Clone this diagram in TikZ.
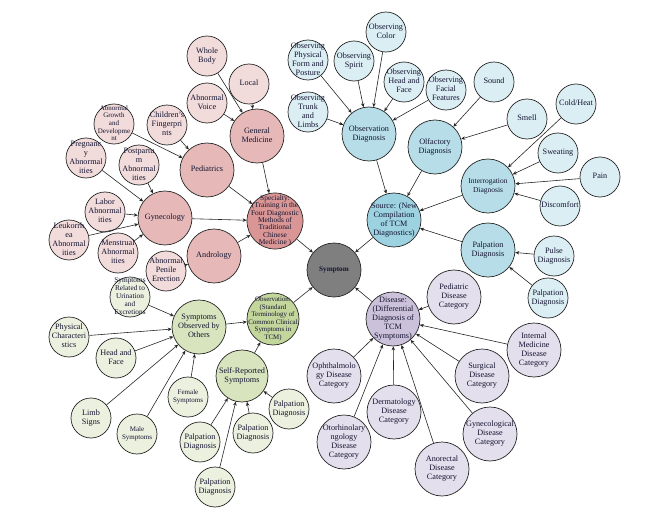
\documentclass[tikz,border=0pt]{standalone}
\usepackage{fontspec}
\setmainfont{Liberation Serif}
\usepackage{tikz}
\usetikzlibrary{arrows.meta}
\definecolor{ink}{HTML}{141432}
\definecolor{pinkA}{HTML}{F2DCDB}
\definecolor{pinkB}{HTML}{E6B9B8}
\definecolor{pinkC}{HTML}{D99694}
\definecolor{blueA}{HTML}{DBEEF4}
\definecolor{blueB}{HTML}{B7DEE8}
\definecolor{blueC}{HTML}{9DD2E0}
\definecolor{greenA}{HTML}{EBF1DE}
\definecolor{greenB}{HTML}{D7E4BD}
\definecolor{greenC}{HTML}{C3D69B}
\definecolor{purpA}{HTML}{E4DFEC}
\definecolor{purpC}{HTML}{CCC1DA}
\definecolor{greyC}{HTML}{7F7F7F}
\newcommand{\ctext}[1]{\smash{\makebox[0pt]{\raisebox{-.25em}{\begin{tabular}{@{}c@{}}#1\end{tabular}}}}}
\tikzset{
    smallcircle/.style={draw=black!85, circle, line width=.7pt, minimum size=40pt, inner sep=0pt, text=ink, font=\fontsize{8.2}{9}\selectfont},
    bigcircle/.style={smallcircle, minimum size=54pt},
    tinytext/.style={font=\fontsize{7}{7.6}\selectfont},
    link/.style={->, line width=.6pt, draw=black!85}
}

\begin{document}
\begin{tikzpicture}[x=1pt, y=-1pt, >={Stealth[length=4pt, width=3.5pt]}]
  \useasboundingbox (0,0) rectangle (646,527);
  % centre
  \node(SY)[bigcircle, fill=greyC, font=\fontsize{7.2}{8}\selectfont\bfseries] at (334,270){\ctext{Symptom}};
  % specialty branch
  \node(SP)[bigcircle, minimum size=56pt, fill=pinkC, font=\fontsize{7.4}{7.4}\selectfont] at (275,221){\ctext{Specialty:\\(Training in the\\Four Diagnostic\\Methods of\\Traditional\\Chinese\\Medicine )}};
  \node(GM)[bigcircle, fill=pinkB] at (257,136){\ctext{General\\Medicine}};
  \node(PD)[bigcircle, fill=pinkB] at (207,170){\ctext{Pediatrics}};
  \node(GY)[bigcircle, fill=pinkB] at (165,218){\ctext{Gynecology}};
  \node(AN)[bigcircle, fill=pinkB] at (214,256){\ctext{Andrology}};
  \node(WB)[smallcircle, fill=pinkA] at (207,56){\ctext{Whole\\Body}};
  \node(LO)[smallcircle, fill=pinkA] at (249,84){\ctext{Local}};
  \node(AV)[smallcircle, fill=pinkA] at (207,103){\ctext{Abnormal\\Voice}};
  \node(CF)[smallcircle, fill=pinkA] at (167,125){\ctext{Children's\\Fingerpri\\nts}};
  \node(AG)[smallcircle, tinytext, fill=pinkA] at (114,124){\ctext{Abnormal\\Growth\\and\\Developme\\nt}};
  \node(PR)[smallcircle, fill=pinkA] at (86,158){\ctext{Pregnanc\\y\\Abnormal\\ities}};
  \node(PP)[smallcircle, fill=pinkA] at (139,165){\ctext{Postpartu\\m\\Abnormal\\ities}};
  \node(LA)[smallcircle, fill=pinkA] at (105,212){\ctext{Labor\\Abnormal\\ities}};
  \node(LE)[smallcircle, fill=pinkA] at (69,240){\ctext{Leukorrh\\ea\\Abnormal\\ities}};
  \node(ME)[smallcircle, fill=pinkA] at (118,253){\ctext{Menstrual\\Abnormal\\ities}};
  \node(PE)[smallcircle, fill=pinkA] at (166,271){\ctext{Abnormal\\Penile\\Erection}};
  % source branch
  \node(SO)[bigcircle, fill=blueC] at (394,220){\ctext{Source: (New\\Compilation\\of TCM\\Diagnostics)}};
  \node(OD)[bigcircle, fill=blueB] at (369,134){\ctext{Observation\\Diagnosis}};
  \node(OL)[bigcircle, fill=blueB] at (435,147){\ctext{Olfactory\\Diagnosis}};
  \node(ID)[bigcircle, fill=blueB, font=\fontsize{7.5}{9}\selectfont] at (488,186){\ctext{Interrogation\\Diagnosis}};
  \node(PA)[bigcircle, fill=blueB] at (488,250){\ctext{Palpation\\Diagnosis}};
  \node(OP)[smallcircle, fill=blueA] at (308,60){\ctext{Observing\\Physical\\Form and\\Posture}};
  \node(OS)[smallcircle, fill=blueA] at (354,61){\ctext{Observing\\Spirit}};
  \node(OC)[smallcircle, fill=blueA] at (386,32){\ctext{Observing\\Color}};
  \node(OH)[smallcircle, fill=blueA] at (404,82){\ctext{Observing\\Head and\\Face}};
  \node(OF)[smallcircle, fill=blueA] at (446,90){\ctext{Observing\\Facial\\Features}};
  \node(OT)[smallcircle, fill=blueA] at (308,112){\ctext{Observing\\Trunk\\and\\Limbs}};
  \node(SN)[smallcircle, fill=blueA] at (494,82){\ctext{Sound}};
  \node(SM)[smallcircle, fill=blueA] at (527,119){\ctext{Smell}};
  \node(CH)[smallcircle, fill=blueA] at (576,104){\ctext{Cold/Heat}};
  \node(SW)[smallcircle, fill=blueA] at (558,153){\ctext{Sweating}};
  \node(PN)[smallcircle, fill=blueA] at (600,177){\ctext{Pain}};
  \node(DC)[smallcircle, fill=blueA] at (560,206){\ctext{Discomfort}};
  \node(PU)[smallcircle, fill=blueA] at (554,256){\ctext{Pulse\\Diagnosis}};
  \node(PB)[smallcircle, fill=blueA] at (548,298){\ctext{Palpation\\Diagnosis}};
  % observation branch
  \node(ST)[bigcircle, minimum size=52pt, fill=greenC, font=\fontsize{6.9}{7.5}\selectfont] at (273,319){\ctext{Observation:\\(Standard\\Terminology of\\Common Clinical\\Symptoms in\\TCM)}};
  \node(SB)[bigcircle, fill=greenB] at (199,327){\ctext{Symptoms\\Observed by\\Others}};
  \node(SR)[bigcircle, minimum size=52pt, fill=greenB] at (242,376){\ctext{Self-Reported\\Symptoms}};
  \node(UR)[smallcircle, fill=greenA, font=\fontsize{7.3}{8}\selectfont] at (130,297){\ctext{Symptoms\\Related to\\Urination\\and\\Excretions}};
  \node(PC)[smallcircle, fill=greenA] at (69,337){\ctext{Physical\\Characteri\\stics}};
  \node(HF)[smallcircle, fill=greenA] at (116,358){\ctext{Head and\\Face}};
  \node(LS)[smallcircle, fill=greenA] at (91,418){\ctext{Limb\\Signs}};
  \node(MS)[smallcircle, tinytext, fill=greenA] at (137,434){\ctext{Male\\Symptoms}};
  \node(FS)[smallcircle, tinytext, fill=greenA] at (188,397){\ctext{Female\\Symptoms}};
  \node(P1)[smallcircle, fill=greenA] at (289,409){\ctext{Palpation\\Diagnosis}};
  \node(P2)[smallcircle, fill=greenA] at (253,433){\ctext{Palpation\\Diagnosis}};
  \node(P3)[smallcircle, fill=greenA] at (200,442){\ctext{Palpation\\Diagnosis}};
  \node(P4)[smallcircle, fill=greenA] at (215,487){\ctext{Palpation\\Diagnosis}};
  % disease branch
  \node(DS)[bigcircle, fill=purpC] at (393,319){\ctext{Disease:\\(Differential\\Diagnosis of\\TCM\\Symptoms)}};
  \node(DP)[bigcircle, fill=purpA] at (454,297){\ctext{Pediatric\\Disease\\Category}};
  \node(DO)[bigcircle, fill=purpA] at (334,376){\ctext{Ophthalmolo\\gy Disease\\Category}};
  \node(DU)[bigcircle, fill=purpA] at (482,376){\ctext{Surgical\\Disease\\Category}};
  \node(DI)[bigcircle, fill=purpA] at (534,350){\ctext{Internal\\Medicine\\Disease\\Category}};
  \node(DD)[bigcircle, fill=purpA] at (394,412){\ctext{Dermatology\\Disease\\Category}};
  \node(DR)[bigcircle, fill=purpA] at (344,442){\ctext{Otorhinolary\\ngology\\Disease\\Category}};
  \node(DA)[bigcircle, fill=purpA] at (442,469){\ctext{Anorectal\\Disease\\Category}};
  \node(DG)[bigcircle, fill=purpA] at (490,434){\ctext{Gynecological\\Disease\\Category}};
  % links
  \draw[link](WB)--(GM);
  \draw[link](LO)--(GM);
  \draw[link](AV)--(GM);
  \draw[link](AG)--(PD);
  \draw[link](CF)--(PD);
  \draw[link](PR)--(GY);
  \draw[link](PP)--(GY);
  \draw[link](LA)--(GY);
  \draw[link](LE)--(GY);
  \draw[link](ME)--(GY);
  \draw[link](PE)--(AN);
  \draw[link](GM)--(SP);
  \draw[link](PD)--(SP);
  \draw[link](GY)--(SP);
  \draw[link](AN)--(SP);
  \draw[link](SP)--(SY);
  \draw[link](OP)--(OD);
  \draw[link](OS)--(OD);
  \draw[link](OC)--(OD);
  \draw[link](OH)--(OD);
  \draw[link](OF)--(OD);
  \draw[link](OT)--(OD);
  \draw[link](SN)--(OL);
  \draw[link](SM)--(OL);
  \draw[link](CH)--(ID);
  \draw[link](SW)--(ID);
  \draw[link](PN)--(ID);
  \draw[link](DC)--(ID);
  \draw[link](PU)--(PA);
  \draw[link](PB)--(PA);
  \draw[link](OD)--(SO);
  \draw[link](OL)--(SO);
  \draw[link](ID)--(SO);
  \draw[link](PA)--(SO);
  \draw[link](SO)--(SY);
  \draw[link](UR)--(SB);
  \draw[link](PC)--(SB);
  \draw[link](HF)--(SB);
  \draw[link](LS)--(SB);
  \draw[link](MS)--(SB);
  \draw[link](FS)--(SB);
  \draw[link](P1)--(SR);
  \draw[link](P2)--(SR);
  \draw[link](P3)--(SR);
  \draw[link](P4)--(SR);
  \draw[link](SB)--(ST);
  \draw[link](SR)--(ST);
  \draw[link](ST)--(SY);
  \draw[link](DP)--(DS);
  \draw[link](DO)--(DS);
  \draw[link](DU)--(DS);
  \draw[link](DI)--(DS);
  \draw[link](DD)--(DS);
  \draw[link](DR)--(DS);
  \draw[link](DA)--(DS);
  \draw[link](DG)--(DS);
  \draw[link](DS)--(SY);
\end{tikzpicture}
\end{document}
